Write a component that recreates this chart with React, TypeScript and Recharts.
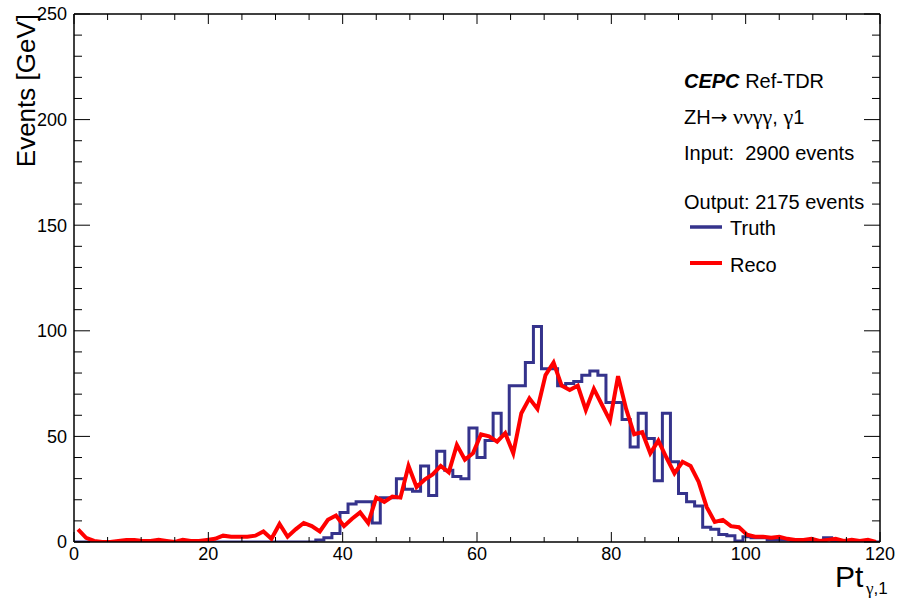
import React from 'react';

import { ComposedChart, Line, XAxis, YAxis } from 'recharts';

// histogram: 100 bins over 0..120
const binWidth = 1.2;

const truth = [
  0, 0, 0, 0, 0, 0, 0, 0, 0, 0,
  0, 0, 0, 0, 0, 0, 0, 0, 0, 0,
  0, 0, 0, 0, 0, 0, 0, 0, 0, 0,
  1, 2, 4, 14, 18, 19, 19, 9, 21, 21,
  30, 25, 24, 36, 22, 43, 34, 31, 30, 54,
  40, 48, 61, 51, 74, 74, 85, 102, 82, 82,
  74, 75, 76, 79, 81, 79, 66, 66, 58, 45,
  61, 49, 29, 61, 38, 23, 19, 17, 7, 6,
  3.5, 3, 0.5, 2.5, 2, 2, 1, 1, 1, 0,
  0.5, 0, 0.5, 2, 0, 0, 0, 0, 0, 0,
];

const reco = [
  6, 2, 0.5, 0, 0, 0.5, 1, 1, 0.5, 0.5,
  1, 0.5, 0, 1, 0.5, 0.5, 1, 1.5, 3, 2.5,
  2.5, 2.5, 3, 5, 1.5, 8.5, 2.5, 6, 9, 7.5,
  5, 10.5, 12.5, 7.5, 11, 14, 9, 21, 19, 21.5,
  21, 36, 26, 29.5, 32, 36, 33, 46, 39, 42,
  51, 50, 47.5, 51.5, 42, 61, 68, 63, 79, 85,
  74, 72, 74, 62.5, 72.5, 65, 57.5, 78.5, 63, 51,
  52, 42, 48, 40, 32.5, 38, 36, 28.5, 16.5, 9.5,
  10.5, 7.5, 7, 3.5, 2.5, 2.5, 2, 2.5, 1.5, 1,
  1, 1.5, 0.5, 1, 1.5, 0.5, 1, 0.5, 1, 0,
];

const xTicks = [0, 5, 10, 15, 20, 25, 30, 35, 40, 45, 50, 55, 60, 65, 70, 75, 80, 85, 90, 95, 100, 105, 110, 115, 120];
const xLabels = [0, 20, 40, 60, 80, 100, 120];
const yTicks = [0, 10, 20, 30, 40, 50, 60, 70, 80, 90, 100, 110, 120, 130, 140, 150, 160, 170, 180, 190, 200, 210, 220, 230, 240, 250];
const yLabels = [0, 50, 100, 150, 200, 250];

const data: any[] = [];
truth.forEach((t, i) => {
  data.push({ x: +(i * binWidth).toFixed(2), truth: t });
  data.push({ x: +(i * binWidth + binWidth / 2).toFixed(2), reco: reco[i] });
});
data.push({ x: 120, truth: truth[truth.length - 1] });

const font = '"Liberation Sans", Arial, sans-serif';
const serif = '"Liberation Serif", "DejaVu Serif", serif';
const blue = '#35338c';
const red = '#ff0000';

const BottomTick = (props: any) => {
  const { x, y, payload } = props;
  const major = xLabels.includes(payload.value);
  return (
    <g>
      <line x1={x} y1={y} x2={x} y2={y - (major ? 10 : 5)} stroke="#000" strokeWidth={1} />
      {major && (
        <text x={x} y={y + 18} textAnchor="middle" fontSize={18} fontFamily={font} fill="#000">
          {payload.value}
        </text>
      )}
    </g>
  );
};

const TopTick = (props: any) => {
  const { x, y, payload } = props;
  const major = xLabels.includes(payload.value);
  return <line x1={x} y1={y} x2={x} y2={y + (major ? 10 : 6)} stroke="#000" strokeWidth={1} />;
};

const LeftTick = (props: any) => {
  const { x, y, payload } = props;
  const major = yLabels.includes(payload.value);
  return (
    <g>
      <line x1={x} y1={y} x2={x + (major ? 16 : 8)} y2={y} stroke="#000" strokeWidth={1} />
      {major && (
        <text x={x - 7} y={y} dy="0.35em" textAnchor="end" fontSize={18} fontFamily={font} fill="#000">
          {payload.value}
        </text>
      )}
    </g>
  );
};

const RightTick = (props: any) => {
  const { x, y, payload } = props;
  const major = yLabels.includes(payload.value);
  return <line x1={x} y1={y} x2={x - (major ? 16 : 8)} y2={y} stroke="#000" strokeWidth={1} />;
};

const frame = { stroke: '#000', strokeWidth: 1.5 };

export default function App() {
  return (
    <div style={{ position: 'absolute', left: 0, top: 0, width: 897, height: 599, background: '#fff' }}>
      <ComposedChart width={897} height={599} data={data} margin={{ top: 4, right: 7, bottom: 27, left: 14 }}>
        <XAxis dataKey="x" type="number" domain={[0, 120]} ticks={xTicks} interval={0} height={30}
          tickSize={0} tickMargin={0} tickLine={false} axisLine={frame} tick={BottomTick} allowDataOverflow />
        <XAxis xAxisId="top" orientation="top" dataKey="x" type="number" domain={[0, 120]} ticks={xTicks}
          interval={0} height={10} tickSize={0} tickMargin={0} tickLine={false} axisLine={frame} tick={TopTick} allowDataOverflow />
        <YAxis type="number" domain={[0, 250]} ticks={yTicks} interval={0} width={60}
          tickSize={0} tickMargin={0} tickLine={false} axisLine={frame} tick={LeftTick} allowDataOverflow />
        <YAxis yAxisId="right" orientation="right" type="number" domain={[0, 250]} ticks={yTicks} interval={0}
          width={10} tickSize={0} tickMargin={0} tickLine={false} axisLine={frame} tick={RightTick} allowDataOverflow />
        <Line dataKey="truth" type="stepAfter" stroke={blue} strokeWidth={3} dot={false} activeDot={false}
          connectNulls isAnimationActive={false} />
        <Line dataKey="reco" type="linear" stroke={red} strokeWidth={4} dot={false} activeDot={false}
          connectNulls isAnimationActive={false} />
      </ComposedChart>
      <svg width={897} height={599} style={{ position: 'absolute', left: 0, top: 0, pointerEvents: 'none' }}
        fontFamily={font} fill="#000">
        <text transform="translate(35,14) rotate(-90)" textAnchor="end" fontSize={26}>Events [GeV]</text>
        <text x={835} y={587} fontSize={30}>Pt</text>
        <text x={866} y={594} fontSize={17}>
          <tspan fontFamily={serif}>γ</tspan>,1
        </text>
        <text x={684} y={88} fontSize={20}>
          <tspan fontWeight="bold" fontStyle="italic">CEPC</tspan> Ref-TDR
        </text>
        <text x={684} y={124} fontSize={20}>
          ZH<tspan fontFamily='"DejaVu Sans", sans-serif'>→</tspan><tspan fontFamily={serif} fontSize={22}> ννγγ</tspan>, <tspan fontFamily={serif} fontSize={22}>γ</tspan>1
        </text>
        <text x={684} y={160} fontSize={20} style={{ whiteSpace: 'pre' }}>Input:  2900 events</text>
        <text x={684} y={209} fontSize={20}>Output: 2175 events</text>
        <line x1={690} y1={227} x2={722} y2={227} stroke={blue} strokeWidth={3.5} />
        <text x={730} y={235} fontSize={20}>Truth</text>
        <line x1={690} y1={263} x2={722} y2={263} stroke={red} strokeWidth={4} />
        <text x={730} y={272} fontSize={20}>Reco</text>
      </svg>
    </div>
  );
}
